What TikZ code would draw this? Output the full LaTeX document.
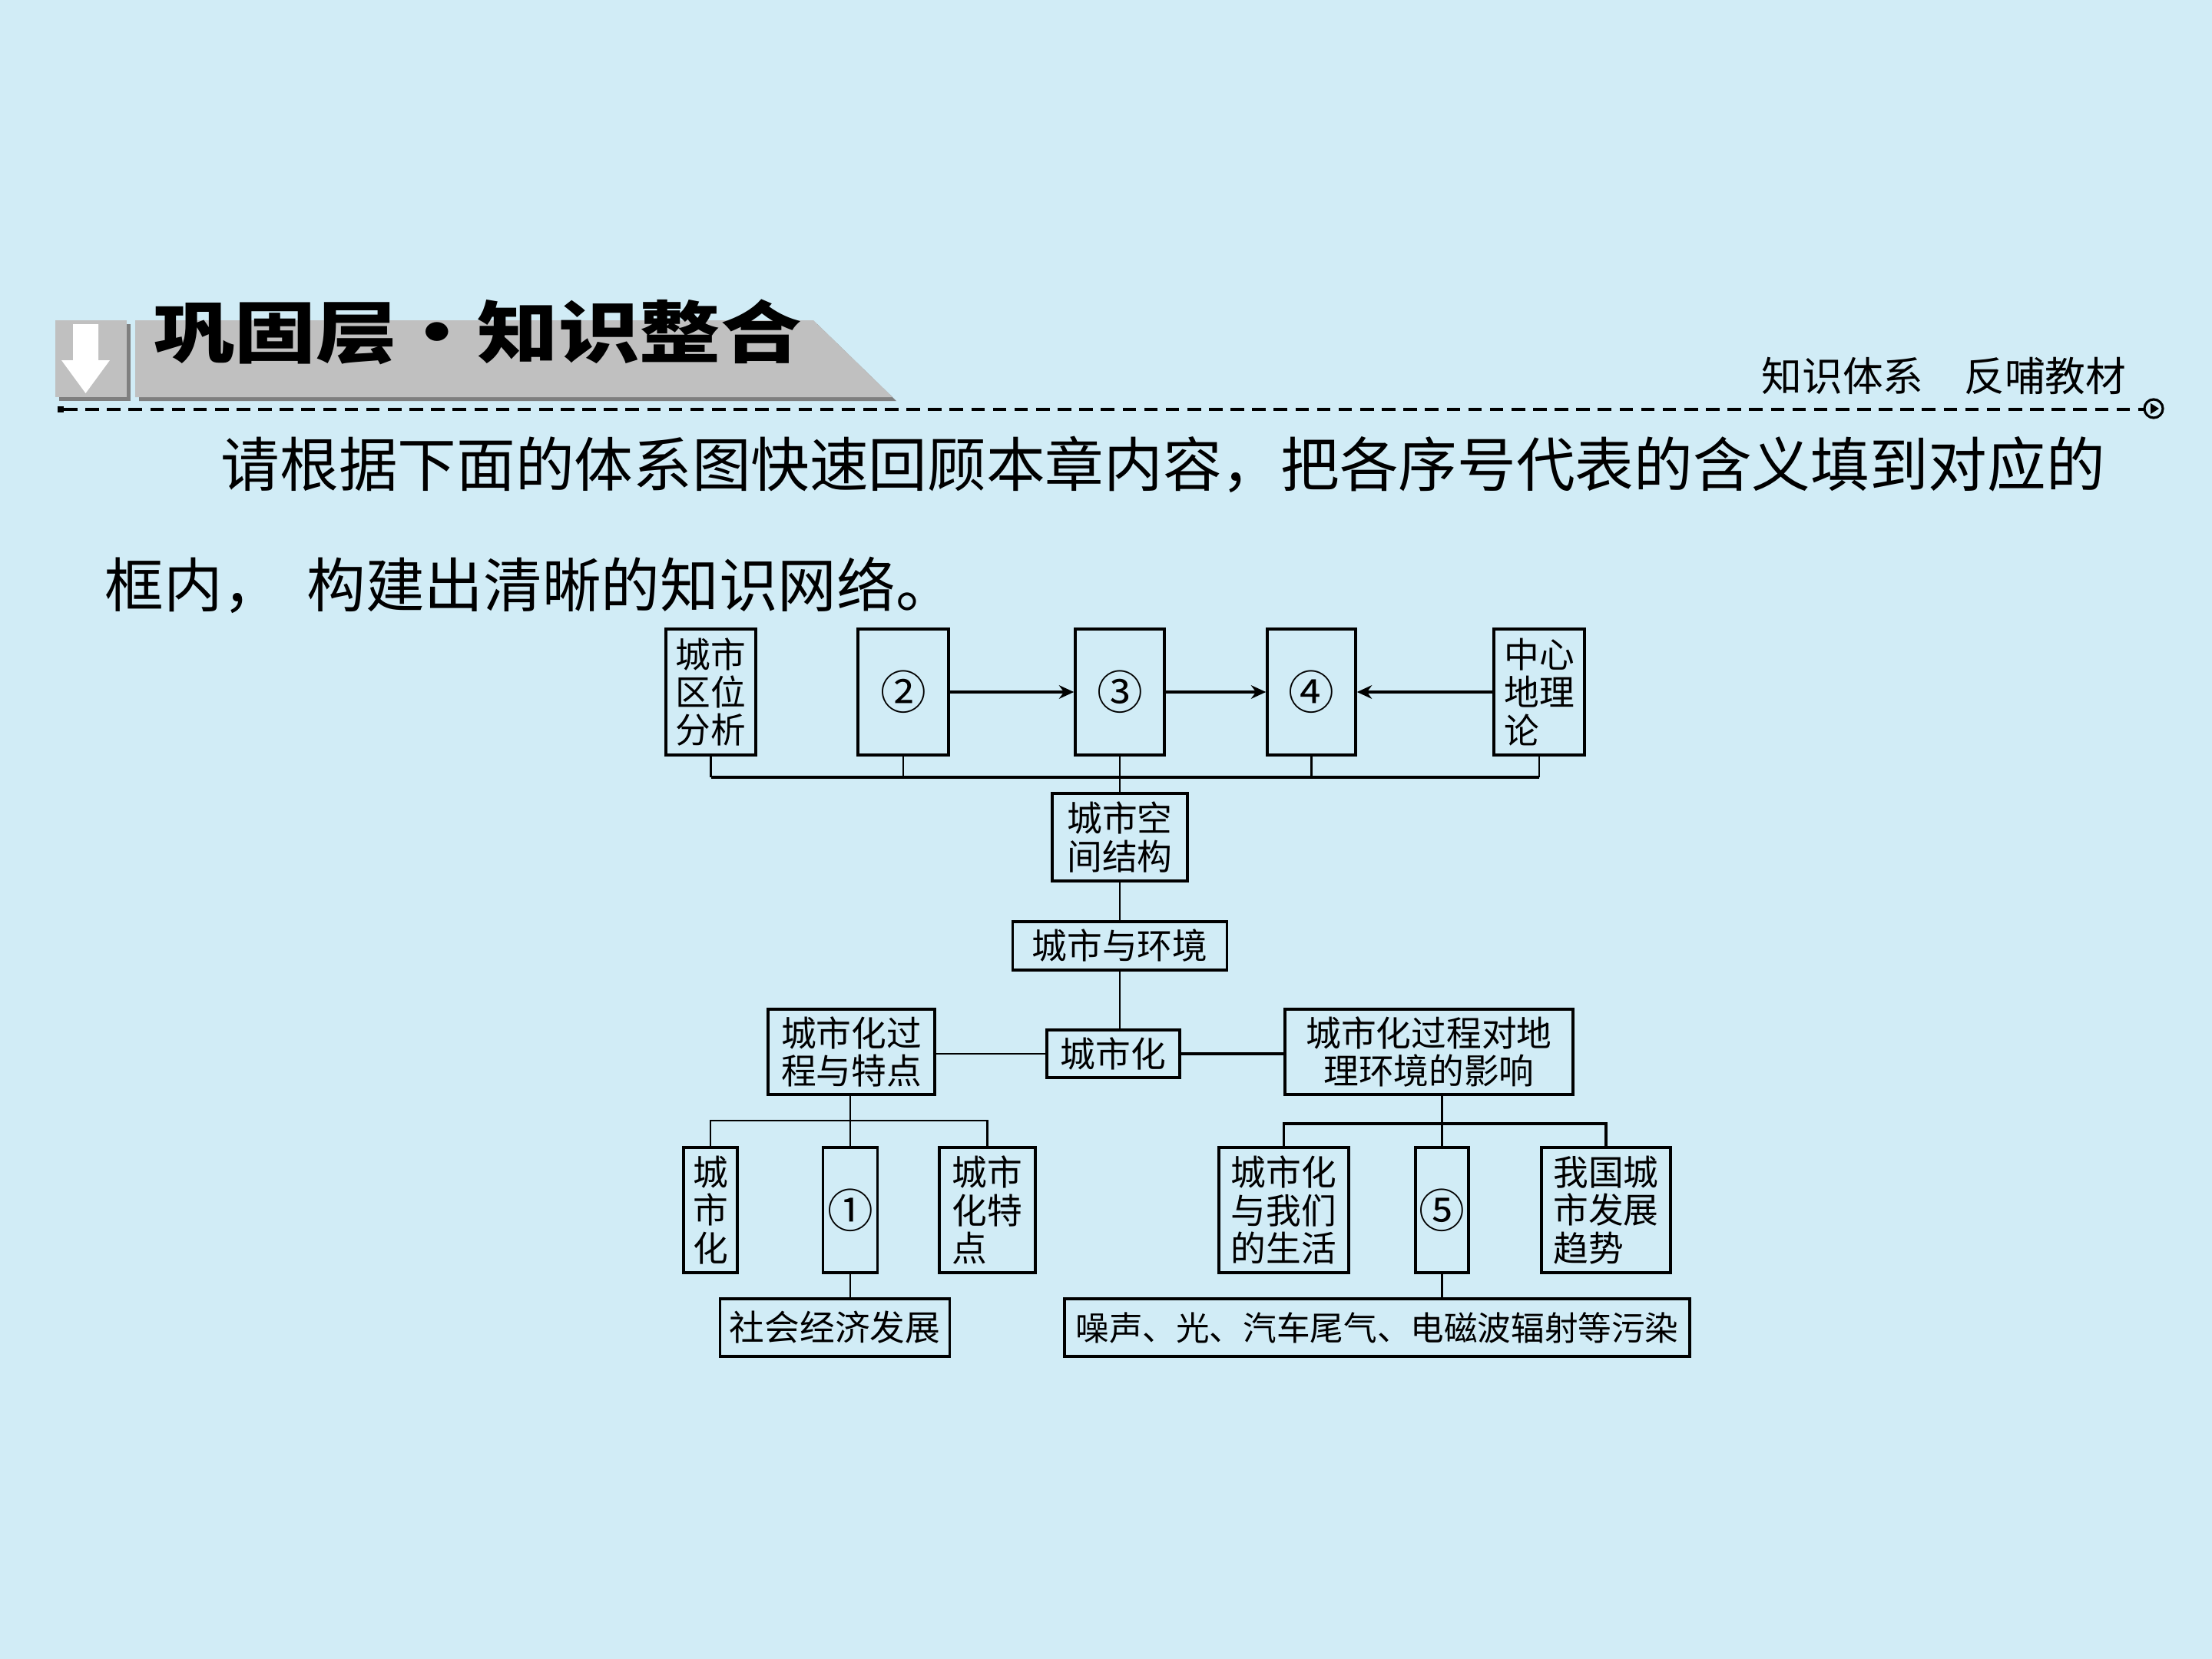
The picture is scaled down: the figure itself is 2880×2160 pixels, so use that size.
\documentclass[tikz,border=0pt]{standalone}
\usepackage{fontspec}
\usepackage{graphicx}
\setmainfont{Noto Sans CJK SC}
\usetikzlibrary{arrows.meta}
\definecolor{bgblue}{HTML}{D1ECF6}
\definecolor{bannergray}{HTML}{C0C0C0}
\definecolor{shadowgray}{HTML}{7F7F7F}
\newcommand{\headtitle}{\scalebox{1.2}[1]{\bfseries\fontsize{25pt}{25pt}\selectfont 巩固层・知识整合}}
\tikzset{
  box/.style={draw,line width=1pt,inner sep=0pt,align=center,font=\fontsize{13pt}{14pt}\selectfont},
  lbox/.style={box,align=left},
  num/.style={box,font=\fontsize{17pt}{17pt}\selectfont},
  link/.style={line width=0.6pt},
  bus/.style={line width=1pt},
  arr/.style={line width=1pt,-{Stealth[length=5.5pt,width=5pt]}},
}

\begin{document}
\begin{tikzpicture}[x=0.01cm,y=-0.01cm]
        \fill[bgblue](0,0)rectangle(2880,2160);
        \useasboundingbox(0,0)rectangle(2880,2160);
        % header band
        \fill[shadowgray](77,422)rectangle(170,522);
        \fill[bannergray](72,417)rectangle(165,517);
        \fill[white](95,422)--(128,422)--(128,469)--(143,469)--(111.5,512)--(80,469)--(95,469)--cycle;
        \fill[shadowgray](181,422)--(1064,422)--(1167,522)--(181,522)--cycle;
        \fill[bannergray](176,417)--(1059,417)--(1162,517)--(176,517)--cycle;
        \node[inner sep=0pt](title)at(622,432){\headtitle};
        \node[inner sep=0pt,font=\fontsize{15pt}{15pt}\selectfont](sub)at(2531,489){知识体系　反哺教材};
        \fill(75,529)rectangle(83,537);
        \draw[line width=1pt,dash pattern=on 5pt off 3pt](83,533)--(2791,533);
        \draw[line width=0.9pt](2804,532)circle[radius=0.12cm];
        \fill(2800,525)--(2811,532)--(2800,539)--cycle;
        % intro text
        \node[anchor=west,inner sep=0pt,font=\fontsize{21.8pt}{21.8pt}\selectfont](p1)at(287,605)
          {请根据下面的体系图快速回顾本章内容，把各序号代表的含义填到对应的};
        \node[anchor=west,inner sep=0pt,font=\fontsize{21.8pt}{21.8pt}\selectfont](p2)at(136,762)
          {框内，\hspace{0.43em}构建出清晰的知识网络。};
        % top row
        \node[box,minimum width=1.17cm,minimum height=1.64cm](qwfx)at(925.5,901){城市\\区位\\分析};
        \node[num,minimum width=1.18cm,minimum height=1.64cm](n2)at(1176,901){②};
        \node[num,minimum width=1.16cm,minimum height=1.64cm](n3)at(1458,901){③};
        \node[num,minimum width=1.15cm,minimum height=1.64cm](n4)at(1707.5,901){④};
        \node[lbox,minimum width=1.18cm,minimum height=1.64cm](zxdl)at(2004,901){中心\\地理\\论};
        \draw[arr](n2)--(n3);
        \draw[arr](n3)--(n4);
        \draw[arr](zxdl)--(n4);
        \coordinate(topbus)at(1458,1012);
        \foreach \n in {qwfx,n2,n3,n4,zxdl}{
          \draw[link](\n.south)--(\n.south|-topbus);}
        \draw[bus](qwfx.south|-topbus)--(zxdl.south|-topbus);
        % middle column
        \node[box,minimum width=1.76cm,minimum height=1.14cm](kjjg)at(1458,1090){城市空\\间结构};
        \node[box,minimum width=2.79cm,minimum height=0.63cm](hj)at(1458,1231.5){城市与环境};
        \node[box,minimum width=1.73cm,minimum height=0.62cm](csh)at(1449.5,1372){城市化};
        \node[box,minimum width=2.17cm,minimum height=1.11cm](gctd)at(1108.5,1369.5){城市化过\\程与特点};
        \node[box,minimum width=3.75cm,minimum height=1.11cm](yx)at(1860.5,1369.5){城市化过程对地\\理环境的影响};
        \draw[link](topbus)--(kjjg.north);
        \draw[link](kjjg)--(hj);
        \draw[link](hj.south)--(hj.south|-csh.north);
        \draw[link](gctd.east|-csh)--(csh.west);
        \draw[bus](csh.east)--(csh.east-|yx.west);
        % lower left
        \node[box,minimum width=0.70cm,minimum height=1.63cm](a1)at(925,1575.5){城\\市\\化};
        \node[num,minimum width=0.71cm,minimum height=1.63cm](c1)at(1107,1575.5){①};
        \node[lbox,minimum width=1.25cm,minimum height=1.63cm](tedian)at(1285.5,1575.5){城市\\化特\\点};
        \node[box,minimum width=2.99cm,minimum height=0.75cm](shjj)at(1087,1728.5){社会经济发展};
        \coordinate(lbus)at(1107,1459);
        \draw[link](c1.north|-gctd.south)--(c1.north);
        \draw[link](a1.north)--(a1.north|-lbus)--(tedian.north|-lbus)--(tedian.north);
        \draw[link](c1.south)--(c1.south|-shjj.north);
        % lower right
        \node[lbox,minimum width=1.69cm,minimum height=1.63cm](shenghuo)at(1671.5,1575.5){城市化\\与我们\\的生活};
        \node[num,minimum width=0.69cm,minimum height=1.63cm](c5)at(1877.5,1575.5){⑤};
        \node[lbox,minimum width=1.68cm,minimum height=1.63cm](qushi)at(2091,1575.5){我国城\\市发展\\趋势};
        \node[box,minimum width=8.14cm,minimum height=0.75cm,font=\fontsize{12.4pt}{14pt}\selectfont](wuran)at(1793,1728.5){噪声、光、汽车尾气、电磁波辐射等污染};
        \coordinate(rbus)at(1877,1463);
        \draw[link](c5.north|-yx.south)--(c5.north);
        \draw[bus](shenghuo.north)--(shenghuo.north|-rbus)--(qushi.north|-rbus)--(qushi.north);
        \draw[link](c5.south)--(c5.south|-wuran.north);
      \end{tikzpicture}
\end{document}
